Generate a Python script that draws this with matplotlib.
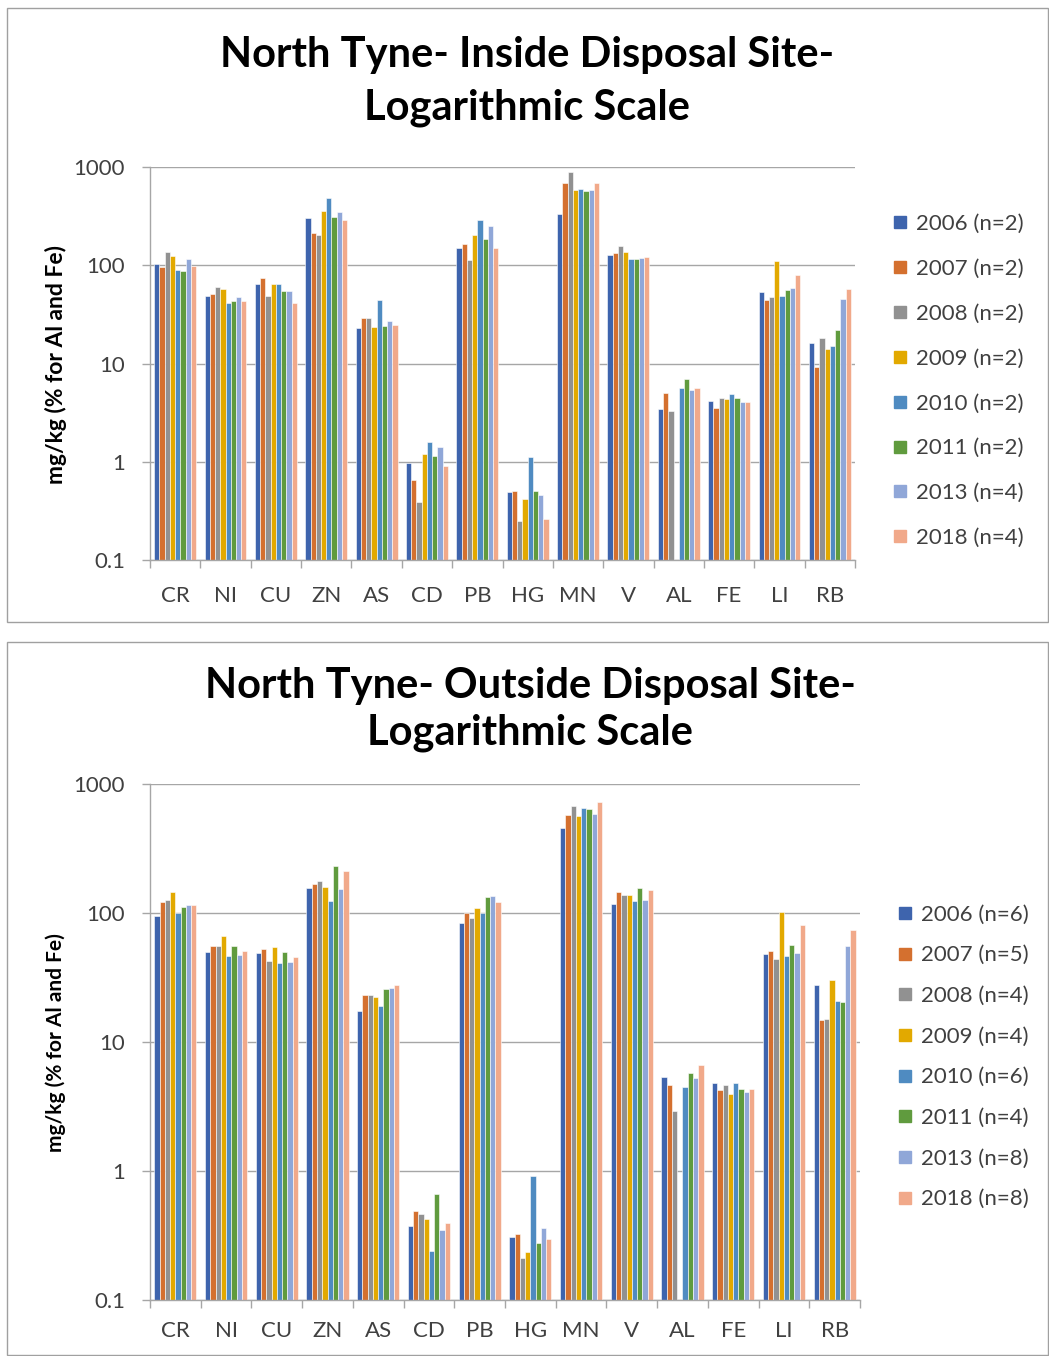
import matplotlib
matplotlib.use("Agg")
import matplotlib.pyplot as plt
import matplotlib.ticker as ticker
from matplotlib.lines import Line2D
from matplotlib.patches import Rectangle
import numpy as np

plt.rcParams['font.family'] = ['Lato', 'DejaVu Sans']

elements = ['CR', 'NI', 'CU', 'ZN', 'AS', 'CD', 'PB', 'HG', 'MN', 'V', 'AL', 'FE', 'LI', 'RB']
years = ['2006', '2007', '2008', '2009', '2010', '2011', '2013', '2018']
colors = ['#3E64AD', '#D4702F', '#919191', '#E2A900', '#4F8BC1', '#609B3E', '#90A7D8', '#F1A98A']

inside_n = [2, 2, 2, 2, 2, 2, 4, 4]
outside_n = [6, 5, 4, 4, 6, 4, 8, 8]

nan = np.nan
# Inside disposal site (one list per year, values per element)
inside_2006 = [103, 49, 65, 302, 23, 0.98, 149, 0.49, 329, 126, 3.45, 4.2, 54, 16.0]
inside_2007 = [95, 51, 74, 215, 29, 0.65, 166, 0.50, 687, 133, 5.0, 3.56, 44, 9.3]
inside_2008 = [138, 60, 49, 202, 29, 0.39, 112, 0.25, 883, 157, 3.26, 4.46, 48, 18.3]
inside_2009 = [125, 57, 65, 358, 23.7, 1.21, 204, 0.42, 583, 137, nan, 4.33, 110, 14.2]
inside_2010 = [90, 41.6, 65, 486, 44, 1.6, 286, 1.12, 597, 115, 5.6, 4.87, 49, 15.0]
inside_2011 = [87, 43, 55, 309, 24.2, 1.14, 187, 0.50, 565, 115, 7.0, 4.46, 55.6, 21.7]
inside_2013 = [115, 48, 55, 347, 27.2, 1.40, 248, 0.46, 583, 119, 5.4, 4.1, 58.7, 45.7]
inside_2018 = [98, 43, 41.6, 292, 24.4, 0.91, 149, 0.26, 687, 122, 5.6, 4.1, 80, 57]

# Outside disposal site
outside_2006 = [95, 50, 49, 156, 17.5, 0.372, 83, 0.308, 455, 117, 5.36, 4.78, 48, 27.5]
outside_2007 = [122, 55, 52.5, 168, 23, 0.488, 100, 0.327, 573, 145, 4.61, 4.26, 51, 14.7]
outside_2008 = [126, 55, 42.5, 176, 23, 0.462, 92, 0.21, 671, 139, 2.91, 4.61, 44, 15.1]
outside_2009 = [145, 66, 54.5, 159, 22.5, 0.425, 110, 0.236, 563, 139, nan, 3.94, 102, 30.5]
outside_2010 = [100, 46.5, 41, 124, 18.9, 0.240, 100, 0.916, 655, 124, 4.5, 4.78, 46.5, 20.9]
outside_2011 = [112, 55, 50, 230, 25.7, 0.665, 134, 0.275, 643, 156, 5.8, 4.34, 56, 20.6]
outside_2013 = [115, 47, 41.7, 153, 26.3, 0.346, 136, 0.361, 583, 126, 5.27, 4.08, 49, 55]
outside_2018 = [115, 51, 46, 212, 27.8, 0.395, 122, 0.297, 721, 150, 6.6, 4.34, 81, 74]

inside = [inside_2006, inside_2007, inside_2008, inside_2009,
          inside_2010, inside_2011, inside_2013, inside_2018]
outside = [outside_2006, outside_2007, outside_2008, outside_2009,
           outside_2010, outside_2011, outside_2013, outside_2018]

W, H = 1049, 1356
fig = plt.figure(figsize=(W / 100, H / 100), dpi=100)

GRID = '#A6A6A6'
TXT = '#404040'


def fx(px):
    return px / W


def fy(py):
    return 1 - py / H


def panel(rect, data, ns, xpad, ylab_y, ylab_size, leg_y, leg_x, leg_space):
    ax = fig.add_axes(rect)
    x = np.arange(len(elements))
    bw = 0.104
    for i, vals in enumerate(data):
        ax.bar(x + (i - 3.5) * bw, vals, bw, color=colors[i], edgecolor='white',
               linewidth=0.4, log=True)
    ax.set_yscale('log')
    ax.set_ylim(0.1, 1000)
    ax.set_xlim(-0.5, len(elements) - 0.5)
    ax.yaxis.set_major_locator(ticker.FixedLocator([0.1, 1, 10, 100, 1000]))
    ax.yaxis.set_major_formatter(ticker.FixedFormatter(['0.1', '1', '10', '100', '1000']))
    ax.yaxis.set_minor_locator(ticker.NullLocator())
    ax.xaxis.set_major_locator(ticker.FixedLocator(np.arange(-0.5, len(elements), 1)))
    ax.xaxis.set_major_formatter(ticker.NullFormatter())
    ax.xaxis.set_minor_locator(ticker.FixedLocator(x))
    ax.xaxis.set_minor_formatter(ticker.FixedFormatter(elements))
    ax.tick_params(axis='x', which='major', length=6, color=GRID, width=1)
    ax.tick_params(axis='x', which='minor', length=0, pad=xpad, labelsize=16, labelcolor=TXT)
    ax.tick_params(axis='y', which='major', length=6, color=GRID, width=1, pad=12,
                   labelsize=16, labelcolor=TXT)
    ax.grid(axis='y', color=GRID, linewidth=1)
    ax.set_axisbelow(True)
    for s in ['top', 'right']:
        ax.spines[s].set_visible(False)
    for s in ['left', 'bottom']:
        ax.spines[s].set_color(GRID)
        ax.spines[s].set_linewidth(1)

    fig.text(fx(56), fy(ylab_y), 'mg/kg (% for Al and Fe)', rotation=90, ha='center',
             va='center', fontsize=ylab_size, fontweight='bold', color='black')

    handles = [Line2D([], [], marker='s', linestyle='none', markersize=9,
                      color=colors[i]) for i in range(len(years))]
    labels = [f'{years[i]} (n={ns[i]})' for i in range(len(years))]
    fig.legend(handles, labels, loc='center left', bbox_to_anchor=(fx(leg_x), fy(leg_y)),
               frameon=False, fontsize=16, labelcolor=TXT, handlelength=0.7,
               handletextpad=0.4, labelspacing=leg_space, borderpad=0, borderaxespad=0)
    return ax


# top panel
fig.add_artist(Rectangle((fx(7), fy(622)), fx(1041), (622 - 8) / H, transform=fig.transFigure,
                         fill=False, edgecolor='#A0A0A0', linewidth=1))
panel([fx(150), fy(560), fx(705), (560 - 167) / H], inside, inside_n,
      19, 364, 16.5, 381, 892, 1.12)
fig.text(fx(527), fy(55), 'North Tyne- Inside Disposal Site-', ha='center', va='center',
         fontsize=30, fontweight='bold')
fig.text(fx(527), fy(108), 'Logarithmic Scale', ha='center', va='center',
         fontsize=30, fontweight='bold')

# bottom panel
fig.add_artist(Rectangle((fx(7), fy(1355)), fx(1041), (1355 - 642) / H, transform=fig.transFigure,
                         fill=False, edgecolor='#A0A0A0', linewidth=1))
panel([fx(150), fy(1300), fx(710), (1300 - 784) / H], outside, outside_n,
      15, 1043, 15, 1057, 897, 0.93)
fig.text(fx(530), fy(686), 'North Tyne- Outside Disposal Site-', ha='center', va='center',
         fontsize=30, fontweight='bold')
fig.text(fx(530), fy(733), 'Logarithmic Scale', ha='center', va='center',
         fontsize=30, fontweight='bold')

fig.savefig('out.png', dpi=100, facecolor='white')
